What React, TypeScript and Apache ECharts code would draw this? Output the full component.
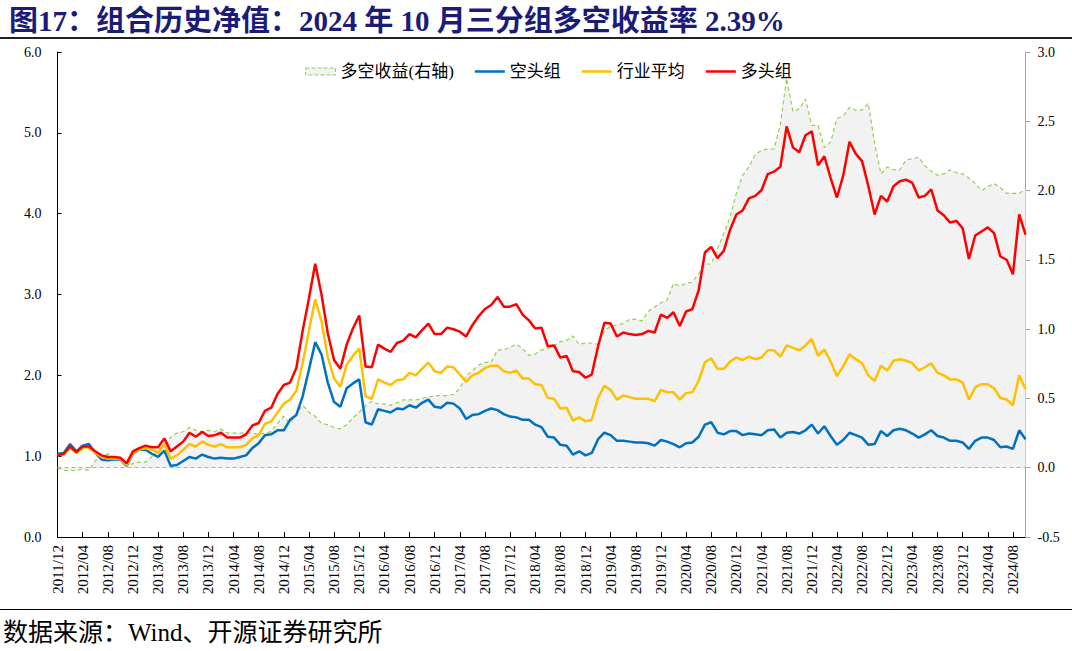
import React, { useEffect, useRef } from "react";
import * as echarts from "echarts";

const SERIF = "'Liberation Serif', 'Times New Roman', 'Noto Sans CJK SC', serif";

const months: string[] = [
  "2011/12",
  "2012/01", "2012/02", "2012/03", "2012/04", "2012/05", "2012/06", "2012/07", "2012/08", "2012/09", "2012/10", "2012/11", "2012/12",
  "2013/01", "2013/02", "2013/03", "2013/04", "2013/05", "2013/06", "2013/07", "2013/08", "2013/09", "2013/10", "2013/11", "2013/12",
  "2014/01", "2014/02", "2014/03", "2014/04", "2014/05", "2014/06", "2014/07", "2014/08", "2014/09", "2014/10", "2014/11", "2014/12",
  "2015/01", "2015/02", "2015/03", "2015/04", "2015/05", "2015/06", "2015/07", "2015/08", "2015/09", "2015/10", "2015/11", "2015/12",
  "2016/01", "2016/02", "2016/03", "2016/04", "2016/05", "2016/06", "2016/07", "2016/08", "2016/09", "2016/10", "2016/11", "2016/12",
  "2017/01", "2017/02", "2017/03", "2017/04", "2017/05", "2017/06", "2017/07", "2017/08", "2017/09", "2017/10", "2017/11", "2017/12",
  "2018/01", "2018/02", "2018/03", "2018/04", "2018/05", "2018/06", "2018/07", "2018/08", "2018/09", "2018/10", "2018/11", "2018/12",
  "2019/01", "2019/02", "2019/03", "2019/04", "2019/05", "2019/06", "2019/07", "2019/08", "2019/09", "2019/10", "2019/11", "2019/12",
  "2020/01", "2020/02", "2020/03", "2020/04", "2020/05", "2020/06", "2020/07", "2020/08", "2020/09", "2020/10", "2020/11", "2020/12",
  "2021/01", "2021/02", "2021/03", "2021/04", "2021/05", "2021/06", "2021/07", "2021/08", "2021/09", "2021/10", "2021/11", "2021/12",
  "2022/01", "2022/02", "2022/03", "2022/04", "2022/05", "2022/06", "2022/07", "2022/08", "2022/09", "2022/10", "2022/11", "2022/12",
  "2023/01", "2023/02", "2023/03", "2023/04", "2023/05", "2023/06", "2023/07", "2023/08", "2023/09", "2023/10", "2023/11", "2023/12",
  "2024/01", "2024/02", "2024/03", "2024/04", "2024/05", "2024/06", "2024/07", "2024/08", "2024/09", "2024/10",
];

// 多空收益(右轴)
const longShortSpread: number[] = [
  0.00, -0.02, -0.02, -0.02, -0.01, -0.02, 0.05, 0.08, 0.10, 0.07,
  0.06, 0.02, 0.03, 0.04, 0.04, 0.08, 0.13, 0.16, 0.22, 0.25,
  0.26, 0.29, 0.27, 0.26, 0.27, 0.26, 0.28, 0.25, 0.25, 0.25,
  0.25, 0.25, 0.24, 0.25, 0.26, 0.32, 0.37, 0.32, 0.39, 0.45,
  0.40, 0.37, 0.32, 0.31, 0.29, 0.28, 0.31, 0.36, 0.40, 0.45,
  0.48, 0.46, 0.46, 0.45, 0.47, 0.49, 0.49, 0.49, 0.50, 0.51,
  0.52, 0.52, 0.52, 0.53, 0.57, 0.66, 0.70, 0.74, 0.76, 0.76,
  0.85, 0.85, 0.87, 0.89, 0.86, 0.81, 0.82, 0.85, 0.86, 0.88,
  0.91, 0.92, 0.95, 0.89, 0.90, 0.90, 0.89, 0.99, 1.02, 1.03,
  1.04, 1.07, 1.07, 1.06, 1.13, 1.16, 1.19, 1.21, 1.33, 1.31,
  1.33, 1.34, 1.40, 1.47, 1.47, 1.58, 1.69, 1.81, 1.98, 2.11,
  2.17, 2.26, 2.29, 2.30, 2.30, 2.48, 2.81, 2.57, 2.59, 2.66,
  2.47, 2.47, 2.31, 2.35, 2.52, 2.54, 2.60, 2.58, 2.58, 2.63,
  2.34, 2.12, 2.17, 2.15, 2.15, 2.22, 2.23, 2.24, 2.18, 2.14,
  2.11, 2.12, 2.15, 2.13, 2.12, 2.09, 2.05, 2.00, 2.03, 2.05,
  2.02, 1.98, 1.98, 1.98, 2.01,
];

// 空头组
const shortGroup: number[] = [
  1.03, 1.04, 1.15, 1.06, 1.13, 1.15, 1.04, 0.96, 0.95, 0.96,
  0.96, 0.88, 1.03, 1.08, 1.08, 1.03, 0.99, 1.07, 0.88, 0.89,
  0.94, 0.99, 0.97, 1.02, 0.99, 0.97, 0.98, 0.97, 0.97, 0.99,
  1.01, 1.10, 1.16, 1.26, 1.27, 1.32, 1.32, 1.45, 1.51, 1.74,
  2.07, 2.41, 2.26, 1.91, 1.67, 1.61, 1.84, 1.90, 1.95, 1.42,
  1.39, 1.58, 1.56, 1.54, 1.59, 1.58, 1.63, 1.60, 1.66, 1.70,
  1.61, 1.60, 1.66, 1.65, 1.59, 1.46, 1.51, 1.52, 1.56, 1.59,
  1.57, 1.52, 1.49, 1.48, 1.45, 1.45, 1.39, 1.36, 1.24, 1.23,
  1.14, 1.13, 1.02, 1.06, 1.01, 1.04, 1.21, 1.29, 1.26, 1.19,
  1.19, 1.18, 1.17, 1.17, 1.16, 1.13, 1.20, 1.18, 1.15, 1.11,
  1.16, 1.17, 1.24, 1.39, 1.42, 1.29, 1.27, 1.31, 1.31, 1.26,
  1.28, 1.27, 1.26, 1.32, 1.33, 1.23, 1.29, 1.30, 1.28, 1.32,
  1.39, 1.28, 1.37, 1.25, 1.14, 1.20, 1.29, 1.26, 1.23, 1.14,
  1.15, 1.31, 1.25, 1.32, 1.34, 1.32, 1.28, 1.23, 1.27, 1.32,
  1.25, 1.23, 1.19, 1.19, 1.17, 1.09, 1.19, 1.23, 1.23, 1.20,
  1.11, 1.12, 1.09, 1.32, 1.21,
];

// 行业平均
const industryAvg: number[] = [
  1.01, 1.02, 1.10, 1.04, 1.10, 1.11, 1.04, 0.99, 0.97, 0.97,
  0.97, 0.89, 1.04, 1.08, 1.10, 1.08, 1.04, 1.15, 0.97, 1.01,
  1.08, 1.15, 1.12, 1.18, 1.14, 1.12, 1.15, 1.11, 1.11, 1.11,
  1.14, 1.22, 1.26, 1.40, 1.43, 1.54, 1.65, 1.70, 1.81, 2.15,
  2.55, 2.94, 2.67, 2.23, 1.96, 1.86, 2.13, 2.24, 2.33, 1.74,
  1.71, 1.95, 1.91, 1.88, 1.94, 1.95, 2.03, 2.00, 2.08, 2.16,
  2.05, 2.03, 2.11, 2.10, 2.01, 1.92, 2.00, 2.03, 2.09, 2.12,
  2.12, 2.05, 2.03, 2.06, 1.96, 1.96, 1.89, 1.88, 1.72, 1.71,
  1.59, 1.60, 1.44, 1.48, 1.43, 1.45, 1.72, 1.87, 1.82, 1.70,
  1.75, 1.73, 1.71, 1.71, 1.71, 1.68, 1.82, 1.79, 1.79, 1.70,
  1.78, 1.79, 1.93, 2.16, 2.21, 2.08, 2.08, 2.17, 2.22, 2.19,
  2.23, 2.20, 2.22, 2.31, 2.31, 2.23, 2.37, 2.34, 2.31, 2.37,
  2.45, 2.24, 2.32, 2.17, 1.99, 2.11, 2.26, 2.20, 2.15, 2.00,
  1.93, 2.12, 2.06, 2.18, 2.20, 2.18, 2.15, 2.06, 2.10, 2.15,
  2.03, 2.00, 1.95, 1.95, 1.91, 1.70, 1.85, 1.89, 1.89, 1.84,
  1.72, 1.70, 1.63, 2.00, 1.83,
];

// 多头组
const longGroup: number[] = [
  1.01, 1.03, 1.12, 1.05, 1.12, 1.12, 1.06, 1.01, 0.99, 0.99,
  0.98, 0.91, 1.06, 1.10, 1.13, 1.11, 1.11, 1.22, 1.06, 1.12,
  1.18, 1.29, 1.24, 1.30, 1.25, 1.26, 1.29, 1.23, 1.23, 1.23,
  1.27, 1.38, 1.41, 1.56, 1.60, 1.77, 1.88, 1.91, 2.09, 2.55,
  2.95, 3.38, 3.00, 2.52, 2.19, 2.08, 2.38, 2.58, 2.74, 2.11,
  2.10, 2.38, 2.33, 2.29, 2.40, 2.43, 2.51, 2.47, 2.56, 2.64,
  2.51, 2.51, 2.59, 2.57, 2.54, 2.48, 2.62, 2.73, 2.82, 2.87,
  2.97, 2.85, 2.85, 2.88, 2.75, 2.68, 2.58, 2.59, 2.36, 2.37,
  2.22, 2.24, 2.05, 2.04, 1.97, 2.01, 2.36, 2.65, 2.64, 2.48,
  2.53, 2.51, 2.50, 2.51, 2.55, 2.53, 2.75, 2.71, 2.78, 2.61,
  2.79, 2.82, 3.05, 3.52, 3.59, 3.45, 3.54, 3.80, 3.99, 4.04,
  4.19, 4.22, 4.29, 4.49, 4.52, 4.58, 5.08, 4.82, 4.76, 4.97,
  5.02, 4.60, 4.71, 4.44, 4.20, 4.47, 4.89, 4.74, 4.65, 4.34,
  3.99, 4.22, 4.15, 4.34, 4.40, 4.42, 4.38, 4.20, 4.22, 4.30,
  4.04, 3.98, 3.89, 3.91, 3.82, 3.44, 3.73, 3.78, 3.83, 3.76,
  3.47, 3.43, 3.25, 3.99, 3.74,
];

const seriesNames = ["多空收益(右轴)", "空头组", "行业平均", "多头组"];
const titleText = "图17：组合历史净值：2024 年 10 月三分组多空收益率 2.39%";
const sourceText = "数据来源：Wind、开源证券研究所";

const LINE_ICON = "path://M0,0 L30,0 L30,2.5 L0,2.5 Z";

export default function App() {
  const ref = useRef<HTMLDivElement>(null);

  useEffect(() => {
    if (!ref.current) return;
    const chart = echarts.init(ref.current, undefined, { renderer: "svg" });
    const fmt = (v: number) => v.toFixed(1);
    const option: any = {
      animation: false,
      backgroundColor: "#ffffff",
      title: {
        text: titleText,
        left: 4,
        top: 1,
        textStyle: { fontFamily: SERIF, fontSize: 29, fontWeight: "bold", color: "#1b1b78" },
      },
      legend: {
        top: 58,
        left: 300,
        itemWidth: 30,
        itemHeight: 7,
        itemGap: 21,
        textStyle: { fontFamily: SERIF, fontSize: 17, color: "#000" },
        data: [
          {
            name: seriesNames[0],
            icon: "rect",
            itemStyle: { color: "#F2F2F2", borderColor: "#92D050", borderWidth: 1, borderType: "dashed" },
          },
          { name: seriesNames[1], icon: LINE_ICON },
          { name: seriesNames[2], icon: LINE_ICON },
          { name: seriesNames[3], icon: LINE_ICON },
        ],
      },
      grid: { left: 57.5, right: 46.5, top: 52, bottom: 114 },
      xAxis: {
        type: "category",
        data: months,
        boundaryGap: false,
        axisLine: { lineStyle: { color: "#000", width: 1 } },
        axisTick: { inside: true, interval: 3, length: 5, lineStyle: { color: "#000" } },
        axisLabel: { interval: 3, rotate: 90, fontFamily: SERIF, fontSize: 15, color: "#000", margin: 8 },
        splitLine: { show: false },
      },
      yAxis: [
        {
          type: "value",
          min: 0,
          max: 6,
          interval: 1,
          position: "left",
          axisLine: { show: true, lineStyle: { color: "#000", width: 1 } },
          axisTick: { show: true, inside: true, length: 4, lineStyle: { color: "#000" } },
          axisLabel: { formatter: fmt, fontFamily: SERIF, fontSize: 14, color: "#000", margin: 16 },
          splitLine: { show: false },
        },
        {
          type: "value",
          min: -0.5,
          max: 3,
          interval: 0.5,
          position: "right",
          axisLine: { show: true, lineStyle: { color: "#A6A6A6", width: 1 } },
          axisTick: { show: true, inside: false, length: 5, lineStyle: { color: "#A6A6A6" } },
          axisLabel: { formatter: fmt, fontFamily: SERIF, fontSize: 14, color: "#000", margin: 12 },
          splitLine: { show: false },
        },
      ],
      series: [
        {
          name: seriesNames[0],
          type: "line",
          yAxisIndex: 1,
          data: longShortSpread,
          symbol: "none",
          z: 1,
          itemStyle: { color: "#92D050" },
          lineStyle: { color: "#92D050", width: 1.2, type: [4, 3] },
          areaStyle: { color: "#F2F2F2", opacity: 1 },
          markLine: {
            silent: true,
            symbol: "none",
            label: { show: false },
            lineStyle: { color: "#92D050", width: 1.2, type: [4, 3] },
            data: [{ yAxis: 0 }],
          },
        },
        {
          name: seriesNames[1],
          type: "line",
          data: shortGroup,
          symbol: "none",
          z: 2,
          itemStyle: { color: "#0070C0" },
          lineStyle: { color: "#0070C0", width: 2.5 },
        },
        {
          name: seriesNames[2],
          type: "line",
          data: industryAvg,
          symbol: "none",
          z: 3,
          itemStyle: { color: "#FFC000" },
          lineStyle: { color: "#FFC000", width: 2.5 },
        },
        {
          name: seriesNames[3],
          type: "line",
          data: longGroup,
          symbol: "none",
          z: 4,
          itemStyle: { color: "#FF0000" },
          lineStyle: { color: "#FF0000", width: 2.5 },
        },
      ],
      graphic: [
        { type: "rect", left: 0, top: 37, shape: { width: 1072, height: 2 }, style: { fill: "#222" }, silent: true },
        { type: "rect", left: 0, top: 609, shape: { width: 1072, height: 1 }, style: { fill: "#000" }, silent: true },
        {
          type: "text",
          left: 3,
          top: 620,
          style: { text: sourceText, font: `25px ${SERIF}`, fill: "#000" },
          silent: true,
        },
      ],
    };
    chart.setOption(option);
    return () => chart.dispose();
  }, []);

  return (
    <div
      ref={ref}
      style={{ position: "absolute", left: 0, top: 0, width: 1072, height: 651, background: "#fff" }}
    />
  );
}
